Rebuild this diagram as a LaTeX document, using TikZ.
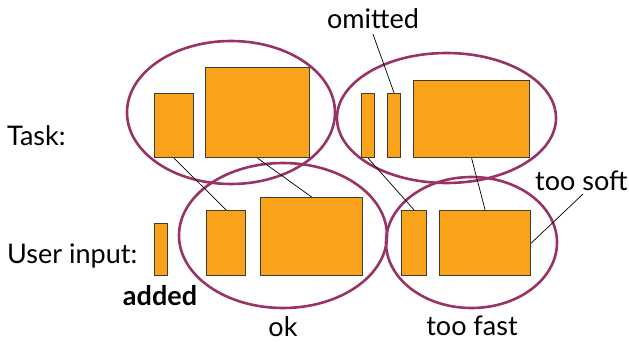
\documentclass[tikz,border=0pt]{standalone}
\usepackage{fontspec}
\setmainfont{Lato}
\definecolor{boxfill}{RGB}{250,163,26}
\definecolor{boxline}{RGB}{60,60,60}
\definecolor{ring}{RGB}{153,51,102}
\begin{document}
\begin{tikzpicture}[x=1pt,y=-1pt,
  box/.style={draw=boxline,line width=1.2pt,fill=boxfill,inner sep=0pt,anchor=north west},
  group/.style={draw=ring,line width=2.6pt},
  lbl/.style={font=\fontsize{27}{30}\selectfont,inner sep=0pt},
  link/.style={draw=black,line width=0.7pt}]
\useasboundingbox (0,0) rectangle (629,342);
% groups
\draw[group] (231,112.5) ellipse [x radius=104,y radius=71.5];
\draw[group] (446.5,118) ellipse [x radius=109.5,y radius=65];
\draw[group] (283,235.5) ellipse [x radius=104,y radius=72.5];
\draw[group] (471.5,242.5) ellipse [x radius=85.5,y radius=65.5];
% task boxes
\node[box,minimum width=39,minimum height=64] (T1) at (154,93) {};
\node[box,minimum width=104,minimum height=90] (T2) at (205,67) {};
\node[box,minimum width=13,minimum height=64] (T3) at (361,93) {};
\node[box,minimum width=13,minimum height=64] (T4) at (387,93) {};
\node[box,minimum width=116,minimum height=77] (T5) at (413,80) {};
% input boxes
\node[box,minimum width=13,minimum height=52] (A) at (154,223) {};
\node[box,minimum width=39,minimum height=65] (U1) at (206,210) {};
\node[box,minimum width=102,minimum height=78] (U2) at (260,197) {};
\node[box,minimum width=25,minimum height=65] (U3) at (401,210) {};
\node[box,minimum width=91,minimum height=65] (U4) at (439,210) {};
% labels
\node[lbl,anchor=west] (task) at (7,136) {Task:};
\node[lbl,anchor=west] (input) at (7,256) {User input:};
\node[lbl,font=\fontsize{27}{30}\selectfont\bfseries] (added) at (160,296) {added};
\node[lbl] (ok) at (283,327) {ok};
\node[lbl] (fast) at (472,326) {too fast};
\node[lbl,anchor=west] (soft) at (535,181) {too soft};
\node[lbl] (omitted) at (373,19) {omitted};
\coordinate (softend) at (583,194);
% connectors
\draw[link] (T1.south) -- (U1.north);
\draw[link] (T2.south) -- (U2.north);
\draw[link] (T3.south) -- (U3.north);
\draw[link] (T5.south) -- (U4.north);
\draw[link] ([yshift=-5pt]omitted.south) -- (T4.north);
\draw[link] (U4.east) -- (softend);
\end{tikzpicture}
\end{document}
